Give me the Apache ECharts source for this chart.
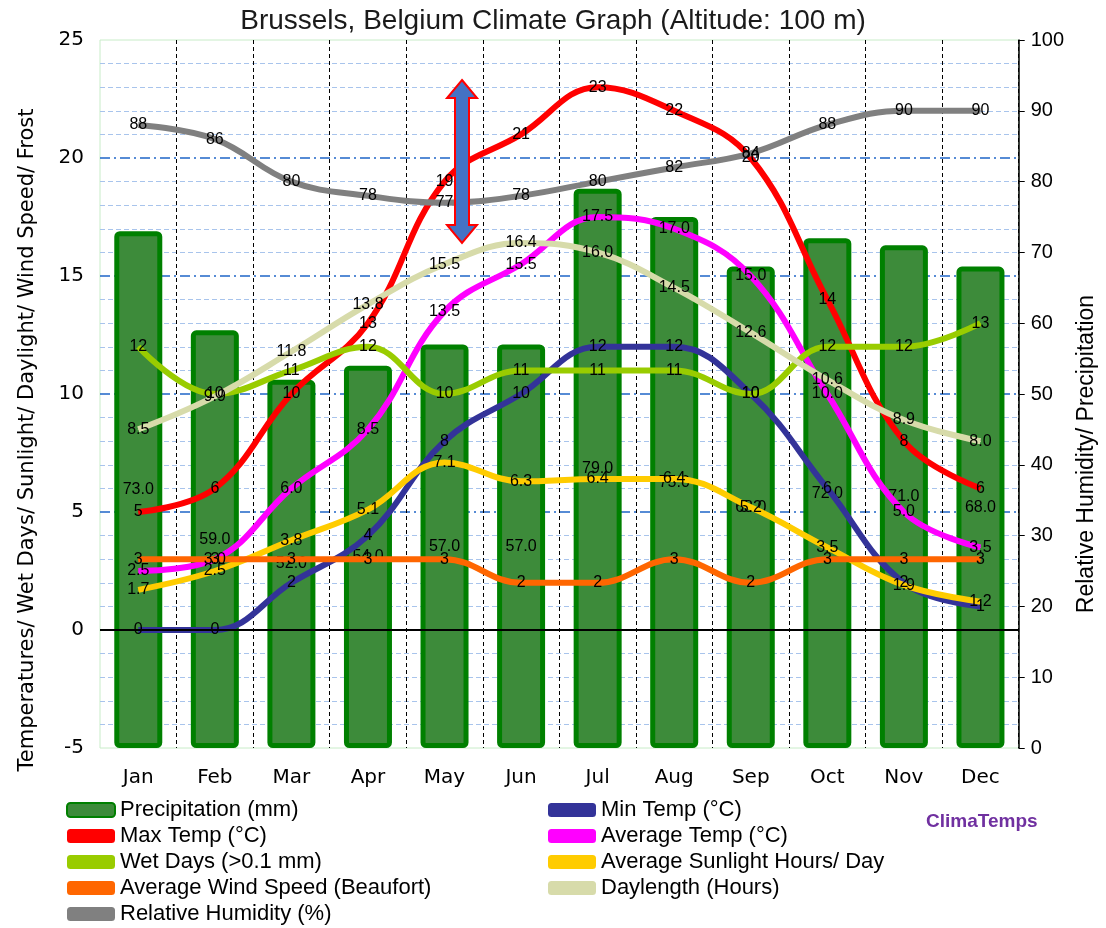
<!DOCTYPE html>
<html style="height: 100%">
<head>
  <meta charset="utf-8">
</head>
<body style="height: 100%; margin: 0">
  <div id="container" style="width: 1106px; height: 928px"></div>
  <script src="https://cdn.jsdelivr.net/npm/echarts@6/dist/echarts.min.js"></script>
  <script type="text/javascript">
    var months = ['Jan', 'Feb', 'Mar', 'Apr', 'May', 'Jun', 'Jul', 'Aug', 'Sep', 'Oct', 'Nov', 'Dec'];
    var precipitation = [73.0, 59.0, 52.0, 54.0, 57.0, 57.0, 79.0, 75.0, 68.0, 72.0, 71.0, 68.0];
    var minTemp = [0, 0, 2, 4, 8, 10, 12, 12, 10, 6, 2, 1];
    var maxTemp = [5, 6, 10, 13, 19, 21, 23, 22, 20, 14, 8, 6];
    var avgTemp = [2.5, 3, 6.0, 8.5, 13.5, 15.5, 17.5, 17, 15.0, 10.0, 5.0, 3.5];
    var wetDays = [12, 10, 11, 12, 10, 11, 11, 11, 10, 12, 12, 13];
    var sunlight = [1.7, 2.5, 3.8, 5.1, 7.1, 6.3, 6.4, 6.4, 5.2, 3.5, 1.9, 1.2];
    var windSpeed = [3, 3, 3, 3, 3, 2, 2, 3, 2, 3, 3, 3];
    var daylength = [8.5, 9.9, 11.8, 13.8, 15.5, 16.4, 16.0, 14.5, 12.6, 10.6, 8.9, 8.0];
    var humidity = [88, 86, 80, 78, 77, 78, 80, 82, 84, 88, 90, 90];

    var font = 'Liberation Sans';
    var tahoma = 'DejaVu Sans';
    var dom = document.getElementById('container');
    var myChart = echarts.init(dom);

    // line series helper - labels sit on the point
    function lineSeries(name, data, color, yIdx, fmt) {
      return {
        name: name,
        type: 'line',
        yAxisIndex: yIdx || 0,
        smooth: 0.4,
        data: data,
        symbol: 'circle',
        symbolSize: 1,
        showSymbol: true,
        itemStyle: { color: color },
        lineStyle: { color: color, width: 6 },
        label: {
          show: true,
          position: 'inside',
          color: '#000',
          fontFamily: font,
          fontSize: 16,
          formatter: fmt || '{c}'
        }
      };
    }
    function oneDec(p) { return Number(p.value).toFixed(1); }

    var legendText = { fontFamily: font, fontSize: 22, color: '#000' };

    var option = {
      backgroundColor: '#fff',
      title: {
        text: 'Brussels, Belgium Climate Graph (Altitude: 100 m)',
        left: 'center',
        top: 2,
        textStyle: { fontFamily: font, fontSize: 28, fontWeight: 'normal', color: '#1a1a1a' }
      },
      grid: {
        left: 100, right: 73, top: 40, bottom: 180,
        show: true, borderColor: '#c8ecc8', borderWidth: 1
      },
      legend: [
        {
          orient: 'vertical', left: 66, top: 799, itemGap: 4, padding: 0,
          itemWidth: 48, itemHeight: 14, icon: 'roundRect',
          textStyle: legendText,
          data: ['Precipitation (mm)', 'Max Temp (°C)', 'Wet Days (>0.1 mm)',
            'Average Wind Speed (Beaufort)', 'Relative Humidity (%)']
        },
        {
          orient: 'vertical', left: 548, top: 799, itemGap: 4, padding: 0,
          itemWidth: 48, itemHeight: 14, icon: 'roundRect',
          textStyle: legendText,
          data: ['Min Temp (°C)', 'Average Temp (°C)', 'Average Sunlight Hours/ Day', 'Daylength (Hours)']
        }
      ],
      graphic: [
        {
          type: 'text', left: 926, top: 812,
          style: { text: 'ClimaTemps', font: 'bold 19px ' + font, fill: '#7030a0' }
        },
        {
          // double arrow annotation over May
          type: 'polygon',
          shape: {
            points: [[462, 80], [477, 98], [469, 98], [469, 225], [477, 225], [462, 243],
              [447, 225], [455, 225], [455, 98], [447, 98]]
          },
          style: { fill: '#4472c4', stroke: '#ff0000', lineWidth: 2 },
          z: 100
        }
      ],
      xAxis: {
        type: 'category',
        data: months,
        axisLine: { show: false },
        axisTick: { show: false },
        axisLabel: { fontFamily: tahoma, fontSize: 20, color: '#000', margin: 20 },
        splitLine: {
          show: true, showMinLine: false,
          lineStyle: { color: '#000', type: [4, 3], width: 1 }
        }
      },
      yAxis: [
        {
          type: 'value', min: -5, max: 25, interval: 5,
          name: 'Temperatures/ Wet Days/ Sunlight/ Daylight/ Wind Speed/ Frost',
          nameLocation: 'middle', nameRotate: 90, nameGap: 62,
          nameTextStyle: { fontFamily: tahoma, fontSize: 21, color: '#000', padding: [0, 92, 0, 0] },
          axisLine: { show: false },
          axisTick: { show: false },
          axisLabel: { fontFamily: tahoma, fontSize: 20, color: '#000', margin: 16 },
          splitLine: {
            show: true, showMinLine: false, showMaxLine: false,
            lineStyle: { color: '#1f66c8', type: [10, 4, 2, 4], width: 1.5 }
          },
          minorTick: { show: false, splitNumber: 5 },
          minorSplitLine: { show: true, lineStyle: { color: '#a8c4ec', type: [5, 3], width: 1 } }
        },
        {
          type: 'value', min: 0, max: 100, interval: 10,
          name: 'Relative Humidity/ Precipitation',
          nameLocation: 'middle', nameRotate: 90, nameGap: 52,
          nameTextStyle: { fontFamily: font, fontSize: 23, color: '#000', padding: [0, 120, 0, 0] },
          axisLine: { show: true, lineStyle: { color: '#000', width: 1.5 } },
          axisTick: { show: true, length: 6, lineStyle: { color: '#000' } },
          axisLabel: { fontFamily: font, fontSize: 20, color: '#000', margin: 12 },
          splitLine: { show: false }
        }
      ],
      series: [
        {
          name: 'Precipitation (mm)',
          type: 'bar',
          yAxisIndex: 1,
          data: precipitation,
          barWidth: 48,
          itemStyle: { color: '#3d8b3a', borderColor: '#008000', borderWidth: 5, borderRadius: 3 },
          label: {
            show: true, position: 'inside', color: '#000',
            fontFamily: font, fontSize: 16, formatter: oneDec
          }
        },
        Object.assign(lineSeries('Min Temp (°C)', minTemp, '#333399'), {
          markLine: {
            silent: true, symbol: 'none', label: { show: false },
            lineStyle: { color: '#000', type: 'solid', width: 2 },
            data: [{ yAxis: 0 }]
          }
        }),
        lineSeries('Max Temp (°C)', maxTemp, '#ff0000'),
        lineSeries('Average Temp (°C)', avgTemp, '#ff00ff', 0, oneDec),
        lineSeries('Wet Days (>0.1 mm)', wetDays, '#99cc00'),
        lineSeries('Average Sunlight Hours/ Day', sunlight, '#ffcc00', 0, oneDec),
        lineSeries('Average Wind Speed (Beaufort)', windSpeed, '#ff6600'),
        lineSeries('Daylength (Hours)', daylength, '#d7dbaa', 0, oneDec),
        lineSeries('Relative Humidity (%)', humidity, '#808080', 1)
      ]
    };

    myChart.setOption(option);
  </script>
</body>
</html>
